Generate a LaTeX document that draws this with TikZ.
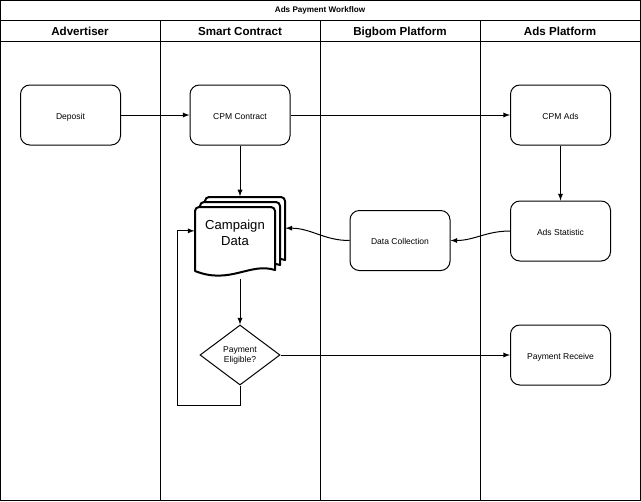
\documentclass[tikz,border=0pt]{standalone}
\usepackage{fontspec}
\setmainfont{Liberation Sans}
\usetikzlibrary{shapes.geometric,positioning,calc}
\tikzset{
  lane/.style={font=\bfseries\fontsize{8.7}{10}\selectfont,text height=1.6ex,text depth=0.4ex},
  box/.style={draw,rounded corners=7pt,minimum width=75pt,minimum height=45pt,inner sep=0pt,text height=1.6ex,text depth=0.4ex,font=\fontsize{6.4}{7.5}\selectfont},
  dec/.style={draw,diamond,aspect=1.333,minimum width=60pt,minimum height=45pt,inner sep=0pt,align=center,font=\fontsize{6.4}{7.5}\selectfont},
  doc/.style={draw,fill=white,line width=1.5pt,line join=round}
}
\begin{document}
\begin{tikzpicture}[x=0.75pt,y=-0.75pt,>=latex,line width=0.75pt]
        \useasboundingbox (0,0) rectangle (641,501);
        \path[draw] (0.5,0.5) rectangle (640,500);
        \path[draw] (0.5,20) -- (640,20);
        \path[draw] (0.5,41) -- (640,41);
        \foreach \x in {160,320,480}
          \path[draw] (\x,20) -- (\x,500);
        \node[font=\bfseries\fontsize{6.1}{7}\selectfont] (title) at (320,10.5){Ads Payment Workflow};
        \node[lane] (adv) at (80,31){Advertiser};
        \node[lane] (sc) at (240,31){Smart Contract};
        \node[lane] (bb) at (400,31){Bigbom Platform};
        \node[lane] (ap) at (560,31){Ads Platform};

        \node[box] (dep) at (70.5,115){Deposit};
        \node[box] (cp) at (240,115){CPM Contract};
        \node[box] (ads) at (560.5,115){CPM Ads};
        \node[box] (stat) at (560.5,231){Ads Statistic};
        \node[box] (dc) at (400,240.5){Data Collection};
        \node[minimum width=67.5pt,minimum height=61pt,inner sep=0pt] (cd) at (240,237.5){};
        \node[dec] (pay) at (240,355){Payment\\Eligible?};
        \node[box] (rec) at (560.5,355){Payment Receive};
        \coordinate (loop) at (177,405);

        \path[draw,->] (dep) -- (cp);
        \path[draw,->] (cp) -- (ads);
        \path[draw,->] (cp) -- (cd.north);
        \path[draw,->] (ads) -- (stat);
        \path[draw,->] (stat.west) to[out=180,in=0] (dc.east);
        \path[draw,->] (dc.west) to[out=180,in=0] ([yshift=7pt]cd.east);
        \path[draw,->] (cd.south) -- (pay.north);
        \path[draw,->] (pay) -- (rec);
        \path[draw,->] (pay.south) |- (loop) |- ([yshift=5pt]cd.west);

        \foreach \d in {10,5,0}
          \path[doc] (195+\d,271-\d) [rounded corners=3pt] -- (195+\d,207-\d) -- (275+\d,207-\d) [sharp corners] -- (275+\d,270-\d)
            .. controls (250+\d,262-\d) and (230+\d,285-\d) .. cycle;
        \node[align=center,font=\fontsize{9.8}{12}\selectfont] (cdtext) at (235,233){Campaign\\Data};
      \end{tikzpicture}
\end{document}
